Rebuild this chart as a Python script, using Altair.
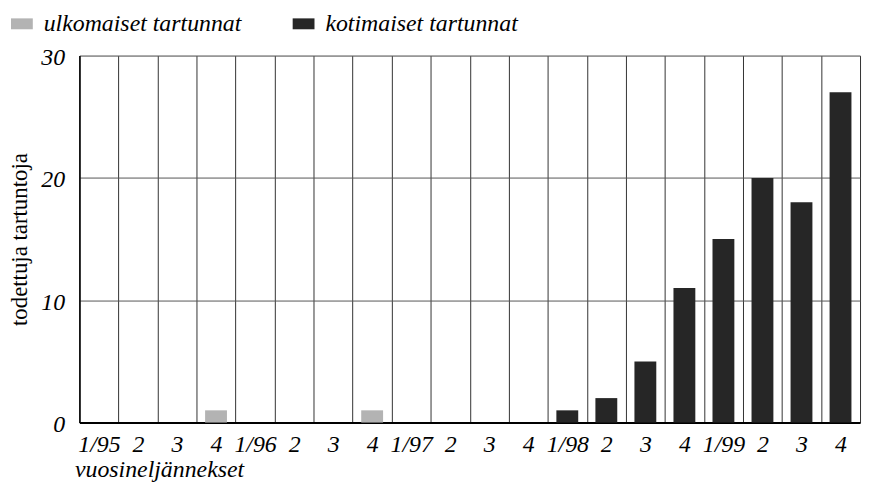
import json
import altair as alt
import pandas as pd

# ---- data ----
quarters = ["1/95", "2/95", "3/95", "4/95", "1/96", "2/96", "3/96", "4/96",
            "1/97", "2/97", "3/97", "4/97", "1/98", "2/98", "3/98", "4/98",
            "1/99", "2/99", "3/99", "4/99"]
tick_labels = ["1/95", "2", "3", "4", "1/96", "2", "3", "4", "1/97", "2", "3", "4",
               "1/98", "2", "3", "4", "1/99", "2", "3", "4"]
ulkomaiset = [0, 0, 0, 1, 0, 0, 0, 1, 0, 0, 0, 0, 0, 0, 0, 0, 0, 0, 0, 0]
kotimaiset = [0, 0, 0, 0, 0, 0, 0, 0, 0, 0, 0, 0, 1, 2, 5, 11, 15, 20, 18, 27]
series_names = ["ulkomaiset tartunnat", "kotimaiset tartunnat"]
series_colors = ["#b3b3b3", "#262626"]

rows = []
for i, q in enumerate(quarters):
    for name, vals in zip(series_names, [ulkomaiset, kotimaiset]):
        rows.append({"i": i, "q": q, "sarja": name, "arvo": vals[i]})
df = pd.DataFrame(rows)

label_expr = json.dumps(tick_labels) + "[datum.value]"
FONT = "Liberation Serif"

chart = alt.Chart(df).transform_filter("datum.arvo > 0").mark_bar(
    width=alt.RelativeBandSize(0.56)
).encode(
    x=alt.X("i:O",
            scale=alt.Scale(domain=list(range(len(quarters))), paddingInner=0, paddingOuter=0),
            axis=alt.Axis(title="vuosineljännekset", labelExpr=label_expr, labelAngle=0,
                          tickBand="extent", grid=True, gridColor="#333333", gridWidth=1,
                          gridOpacity=1, ticks=False, tickSize=0, labelPadding=10,
                          labelFont=FONT, labelFontStyle="italic", labelFontSize=24,
                          labelColor="#000000",
                          domainColor="#000000", domainWidth=2,
                          titleFont=FONT, titleFontStyle="italic", titleFontSize=24,
                          titleFontWeight="normal", titleColor="#000000",
                          titleX=-5, titleY=54, titleAlign="left", titleBaseline="alphabetic")),
    y=alt.Y("arvo:Q", stack=None,
            scale=alt.Scale(domain=[0, 30], nice=False),
            axis=alt.Axis(title="todettuja tartuntoja", values=[0, 10, 20, 30],
                          grid=True, gridColor="#555555", gridWidth=1, gridOpacity=1,
                          ticks=False, tickSize=0, labelPadding=15, labelOffset=2,
                          labelFont=FONT, labelFontStyle="italic", labelFontSize=24,
                          labelColor="#000000",
                          domainColor="#000000", domainWidth=1.5,
                          titleFont=FONT, titleFontSize=23, titleFontWeight="normal",
                          titleColor="#000000", titleX=-53, titleY=185,
                          titleAngle=270, titleAlign="center", titleBaseline="alphabetic")),
    color=alt.Color("sarja:N",
                    scale=alt.Scale(domain=series_names, range=series_colors),
                    legend=alt.Legend(title=None, orient="none", legendX=-70, legendY=-44,
                                      direction="horizontal",
                                      symbolType="M-1,-0.5L1,-0.5L1,0.5L-1,0.5Z",
                                      symbolSize=484, symbolStrokeWidth=0,
                                      symbolOpacity=1,
                                      labelFont=FONT, labelFontStyle="italic",
                                      labelFontSize=24, labelColor="#000000",
                                      labelOffset=10, columnPadding=50,
                                      labelLimit=400)),
).properties(
    width=787, height=370,
    autosize=alt.AutoSizeParams(type="none"),
    padding={"left": 72, "top": 46, "right": 4, "bottom": 63},
).configure_view(
    stroke="#333333", strokeWidth=1.5
).configure(background="#ffffff")

chart.save("out.html", embed_options={"renderer": "svg", "actions": False})
